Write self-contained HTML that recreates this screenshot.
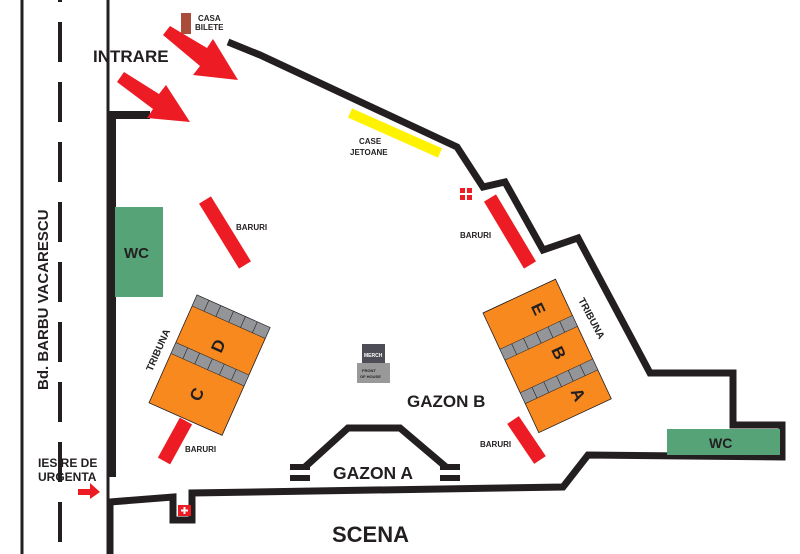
<!DOCTYPE html>
<html><head><meta charset="utf-8"><style>
html,body{margin:0;padding:0;background:#fff;width:800px;height:554px;overflow:hidden}
text{font-family:"Liberation Sans",sans-serif;font-weight:bold;fill:#231f20}
</style></head><body>
<svg width="800" height="554" viewBox="0 0 800 554" xmlns="http://www.w3.org/2000/svg">
<line x1="22" y1="0" x2="22" y2="554" stroke="#231f20" stroke-width="3"/>
<line x1="60" y1="0" x2="60" y2="554" stroke="#231f20" stroke-width="4" stroke-dasharray="40,20" stroke-dashoffset="38"/>
<line x1="108" y1="0" x2="108" y2="554" stroke="#231f20" stroke-width="3"/>
<text transform="translate(48,390) rotate(-90)" font-size="15">Bd. BARBU VACARESCU</text>
<polyline points="150,115 112,115 112,477" fill="none" stroke="#231f20" stroke-width="8"/>
<polyline points="228,42 260,55 457,147 483,187 505,182 543,250 578,238 650,373 733,373 733,425 782,425 782,457 588,455 563,487 192,493 192,520 173,520 173,497 110,502 110,554" fill="none" stroke="#231f20" stroke-width="7" stroke-linejoin="miter"/>
<polyline points="305,467 348,428 400,428 446,467" fill="none" stroke="#231f20" stroke-width="7"/>
<rect x="290" y="464" width="20" height="6" fill="#231f20"/>
<rect x="290" y="475" width="20" height="6" fill="#231f20"/>
<rect x="440" y="464" width="20" height="6" fill="#231f20"/>
<rect x="440" y="475" width="20" height="6" fill="#231f20"/>
<text x="333" y="479" font-size="17.5">GAZON A</text>
<text x="407" y="407" font-size="17">GAZON B</text>
<text x="332" y="542" font-size="22">SCENA</text>
<rect x="115" y="207" width="48" height="90" fill="#55a377"/>
<text x="124" y="258" font-size="15">WC</text>
<rect x="667" y="429" width="113" height="26" fill="#55a377"/>
<text x="709" y="448" font-size="14">WC</text>
<line x1="205" y1="200" x2="245" y2="265" stroke="#ed1c24" stroke-width="14"/>
<line x1="490" y1="198" x2="530" y2="265" stroke="#ed1c24" stroke-width="14"/>
<line x1="186" y1="421" x2="164" y2="461" stroke="#ed1c24" stroke-width="14"/>
<line x1="513" y1="420" x2="540" y2="460" stroke="#ed1c24" stroke-width="14"/>
<line x1="350" y1="113" x2="440" y2="153" stroke="#fff200" stroke-width="10"/>
<text x="236" y="230" font-size="8">BARURI</text>
<text x="460" y="238" font-size="8">BARURI</text>
<text x="185" y="452" font-size="8">BARURI</text>
<text x="480" y="447" font-size="8">BARURI</text>
<text x="359" y="144" font-size="8">CASE</text>
<text x="350" y="155" font-size="8">JETOANE</text>
<rect x="181" y="13" width="10" height="21" fill="#a94c3a"/>
<text x="198" y="21" font-size="8">CASA</text>
<text x="195" y="30" font-size="8">BILETE</text>
<text x="93" y="62" font-size="17">INTRARE</text>
<g fill="#ed1c24">
<polygon points="163,35 170,26 207,48 213,39 238,80 193,75 200,66"/>
<polygon points="117,82 124,72 159,94 166,85 190,122 147,118 153,109"/>
<polygon points="78,489 90,489 90,483 100,492 90,499 90,495 78,495"/>
</g>
<text x="38" y="467" font-size="12">IESIRE DE</text>
<text x="38" y="481" font-size="12">URGENTA</text>
<g fill="#ed1c24">
<rect x="178" y="505" width="13" height="11"/>
<rect x="460" y="188" width="5" height="5"/><rect x="467" y="188" width="5" height="5"/>
<rect x="460" y="195" width="5" height="5"/><rect x="467" y="195" width="5" height="5"/>
</g>
<path d="M184.5 507v7M181 510.5h7" stroke="#fff" stroke-width="2"/>
<rect x="362" y="344" width="23" height="20" fill="#4d4d57"/>
<text x="364" y="357" font-size="5" style="fill:#fff">MERCH</text>
<rect x="357" y="363" width="33" height="20" fill="#999"/>
<text x="362" y="372" font-size="4">FRONT</text>
<text x="360" y="378" font-size="4">OF HOUSE</text>
<g transform="translate(197,295) rotate(24)">
<rect x="0" y="0" width="80" height="118" fill="#f7891f" stroke="#231f20" stroke-width="0.8"/>
<rect x="0" y="0" width="80" height="12" fill="#939598" stroke="#231f20" stroke-width="0.5"/>
<rect x="0" y="52" width="80" height="12" fill="#939598" stroke="#231f20" stroke-width="0.5"/>
<path d="M13 0v12M26 0v12M40 0v12M53 0v12M66 0v12M13 52v12M26 52v12M40 52v12M53 52v12M66 52v12" stroke="#231f20" stroke-width="0.6"/>
<text transform="translate(46,44) rotate(-90)" font-size="17">D</text>
<text transform="translate(46,97) rotate(-90)" font-size="17">C</text>
</g>
<text transform="translate(152,372) rotate(-66)" font-size="10">TRIBUNA</text>
<g transform="translate(483,313) rotate(-25)">
<rect x="0" y="0" width="80" height="132" fill="#f7891f" stroke="#231f20" stroke-width="0.8"/>
<rect x="0" y="40" width="80" height="12" fill="#939598" stroke="#231f20" stroke-width="0.5"/>
<rect x="0" y="88" width="80" height="12" fill="#939598" stroke="#231f20" stroke-width="0.5"/>
<path d="M13 40v12M26 40v12M40 40v12M53 40v12M66 40v12M13 88v12M26 88v12M40 88v12M53 88v12M66 88v12" stroke="#231f20" stroke-width="0.6"/>
<text transform="translate(46,14) rotate(90)" font-size="17">E</text>
<text transform="translate(46,62) rotate(90)" font-size="17">B</text>
<text transform="translate(46,108) rotate(90)" font-size="17">A</text>
</g>
<text transform="translate(578,300) rotate(62)" font-size="10">TRIBUNA</text>
</svg>
</body></html>
